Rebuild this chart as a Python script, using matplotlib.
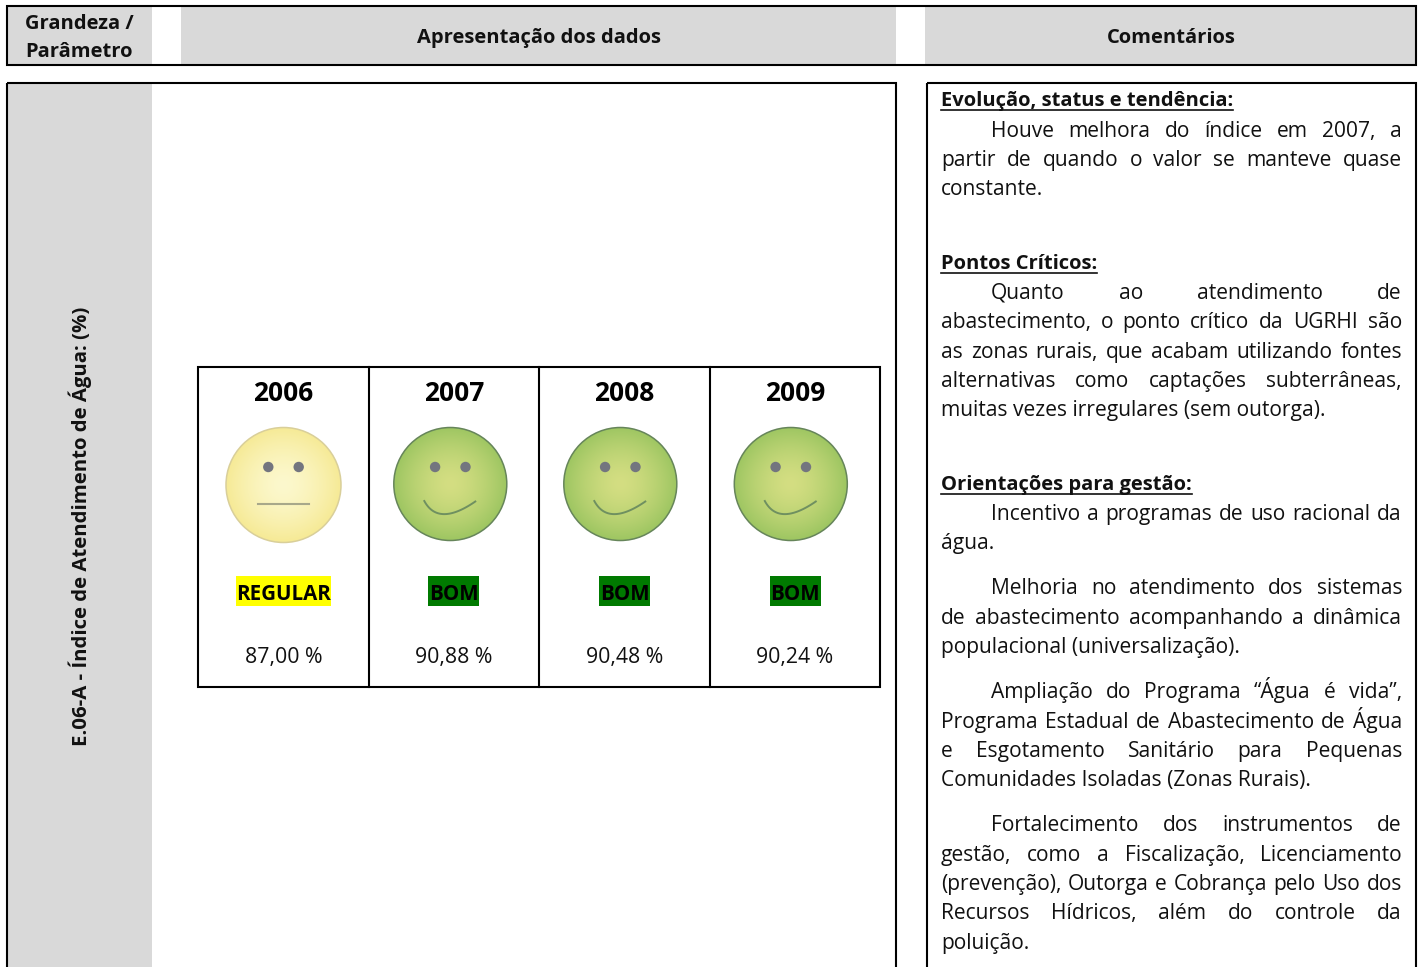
import matplotlib
matplotlib.use('Agg')
import numpy as np
import matplotlib.pyplot as plt
from matplotlib.patches import Rectangle, Circle

plt.rcParams['font.family'] = ['Open Sans', 'DejaVu Sans']

years = ['2006', '2007', '2008', '2009']
ratings = ['REGULAR', 'BOM', 'BOM', 'BOM']
values = ['87,00 %', '90,88 %', '90,48 %', '90,24 %']
rating_colors = ['#ffff00', '#007a00', '#007a00', '#007a00']

# text, justified?, first line indent?
evolucao = [
    ('Houve melhora do índice em 2007, a', True, True),
    ('partir de quando o valor se manteve quase', True, False),
    ('constante.', False, False),
]
pontos = [
    ('Quanto ao atendimento de', True, True),
    ('abastecimento, o ponto crítico da UGRHI são', True, False),
    ('as zonas rurais, que acabam utilizando fontes', True, False),
    ('alternativas como captações subterrâneas,', True, False),
    ('muitas vezes irregulares (sem outorga).', False, False),
]
orient = [
    (512, 'Incentivo a programas de uso racional da', True, True),
    (541, 'água.', False, False),
    (586, 'Melhoria no atendimento dos sistemas', True, True),
    (616, 'de abastecimento acompanhando a dinâmica', True, False),
    (645, 'populacional (universalização).', False, False),
    (690, 'Ampliação do Programa “Água é vida”,', True, True),
    (720, 'Programa Estadual de Abastecimento de Água', True, False),
    (749, 'e Esgotamento Sanitário para Pequenas', True, False),
    (778, 'Comunidades Isoladas (Zonas Rurais).', False, False),
    (823, 'Fortalecimento dos instrumentos de', True, True),
    (853, 'gestão, como a Fiscalização, Licenciamento', True, False),
    (882, '(prevenção), Outorga e Cobrança pelo Uso dos', True, False),
    (911, 'Recursos Hídricos, além do controle da', True, False),
    (941, 'poluição.', False, False),
]

fig = plt.figure(figsize=(14.23, 9.67), dpi=100)
ax = fig.add_axes([0, 0, 1, 1])
ax.set_xlim(0, 1423)
ax.set_ylim(967, 0)
ax.axis('off')

GREY = '#d9d9d9'
INK = '#111111'
BODY = 15.1
HEAD = 14.5


def rect(x0, y0, x1, y1, fc='none', ec='none', lw=0, z=1):
    ax.add_patch(Rectangle((x0, y0), x1 - x0, y1 - y0, fc=fc, ec=ec, lw=lw, zorder=z))


def put_line(y, text, just, indent, x0=941, x1=1402):
    base = y + 8
    start = x0 + 50 if indent else x0
    if not just:
        ax.text(start, base, text, fontsize=BODY, va='baseline', ha='left', color=INK)
        return
    words = text.split()
    r = fig.canvas.get_renderer()
    arts = [ax.text(start, base, w, fontsize=BODY, va='baseline', ha='left', color=INK) for w in words]
    widths = [a.get_window_extent(r).width for a in arts]
    gap = (x1 - start - sum(widths)) / (len(words) - 1)
    x = start
    for a, w in zip(arts, widths):
        a.set_x(x)
        x += w + gap


# header
rect(7, 6, 152, 65, fc=GREY)
rect(181, 6, 896, 65, fc=GREY)
rect(925, 6, 1416, 65, fc=GREY)
rect(7, 6, 1416, 65, ec='black', lw=1.5, z=3)
for y, t in [(29, 'Grandeza /'), (57, 'Parâmetro')]:
    ax.text(79, y, t, fontsize=HEAD, fontweight='bold', ha='center', va='baseline', color=INK)
ax.text(539, 43, 'Apresentação dos dados', fontsize=HEAD, fontweight='bold', ha='center', va='baseline', color=INK)
ax.text(1171, 43, 'Comentários', fontsize=HEAD, fontweight='bold', ha='center', va='baseline', color=INK)

# left panel, runs off the bottom of the page
rect(7, 83, 152, 975, fc=GREY)
rect(7, 83, 896, 975, ec='black', lw=1.5, z=3)
ax.text(87, 526, 'E.06-A - Índice de Atendimento de Água: (%)', fontsize=14.7, fontweight='bold',
        rotation=90, rotation_mode='anchor', ha='center', va='baseline', color=INK)

# table
col_x = [198, 369, 539, 710, 880]
rect(col_x[0], 367, col_x[-1], 687, fc='white', ec='black', lw=1.5, z=3)
for x in col_x[1:-1]:
    ax.plot([x, x], [367, 687], color='black', lw=1.5, zorder=3)


def face(cx, cy, rad, happy):
    # radial shading drawn as an image clipped to the circle
    n = 120
    yy, xx = np.mgrid[-1:1:n * 1j, -1:1:n * 1j]
    d = np.clip(np.hypot(xx, yy), 0, 1)[..., None]
    if happy:
        c0, c1, edge = np.array([212, 222, 130]), np.array([158, 198, 98]), '#66855a'
    else:
        c0, c1, edge = np.array([252, 248, 205]), np.array([246, 234, 150]), '#d9cf9a'
    im = ax.imshow((c0 + (c1 - c0) * d ** 1.5) / 255, extent=(cx - rad, cx + rad, cy + rad, cy - rad),
                   zorder=4, interpolation='bilinear', aspect='auto')
    circ = Circle((cx, cy), rad, fc='none', ec=edge, lw=1.1, zorder=5)
    ax.add_patch(circ)
    im.set_clip_path(circ)
    for s in (-1, 1):
        ax.add_patch(Circle((cx + s * 15.2, 467), 5.2, fc='#73757f', ec='none', zorder=6))
    if happy:
        t = np.linspace(0, 1, 40)
        px = (1 - t) ** 2 * (cx - 26) + 2 * t * (1 - t) * (cx - 12) + t ** 2 * (cx + 25)
        py = (1 - t) ** 2 * 501 + 2 * t * (1 - t) * 527 + t ** 2 * 501.5
        ax.plot(px, py, color='#6f9060', lw=1.4, zorder=6)
    else:
        ax.plot([cx - 25.5, cx + 25.5], [503.7, 503.7], color='#a8a88a', lw=1.5, zorder=6)


centers = [283.5, 450.3, 620.3, 790.8]
text_x = [283.5, 453.8, 624.5, 795]
rad = [57.5, 56.5, 56.5, 56.5]
cy = [485, 484, 484, 484]
label_w = [95, 51, 51, 51]
for i, yr in enumerate(years):
    ax.text(text_x[i], 400.7, yr, fontsize=19, fontweight='bold', ha='center', va='baseline', color='black')
    face(centers[i], cy[i], rad[i], i > 0)
    rect(text_x[i] - label_w[i] / 2, 576, text_x[i] + label_w[i] / 2, 606, fc=rating_colors[i], z=4)
    ax.text(text_x[i], 600, ratings[i], fontsize=14.8, fontweight='bold', ha='center', va='baseline',
            color='black', zorder=5)
    ax.text(text_x[i], 662.5, values[i], fontsize=15.3, ha='center', va='baseline', color=INK)

ax.set_xlim(0, 1423)
ax.set_ylim(967, 0)

# comments panel
rect(927, 83, 1416, 975, ec='black', lw=1.5, z=3)


def heading(y, text):
    a = ax.text(941, y + 7, text, fontsize=HEAD, fontweight='bold', ha='left', va='baseline', color=INK)
    w = a.get_window_extent(fig.canvas.get_renderer()).width
    ax.plot([941, 941 + w], [y + 10.5, y + 10.5], color=INK, lw=1.2)


heading(99, 'Evolução, status e tendência:')
for y, (t, j, ind) in zip([129, 158, 187], evolucao):
    put_line(y, t, j, ind)
heading(262, 'Pontos Críticos:')
for y, (t, j, ind) in zip([291, 320, 350, 379, 408], pontos):
    put_line(y, t, j, ind)
heading(483, 'Orientações para gestão:')
for y, t, j, ind in orient:
    put_line(y, t, j, ind)

fig.savefig('out.png', dpi=100)
